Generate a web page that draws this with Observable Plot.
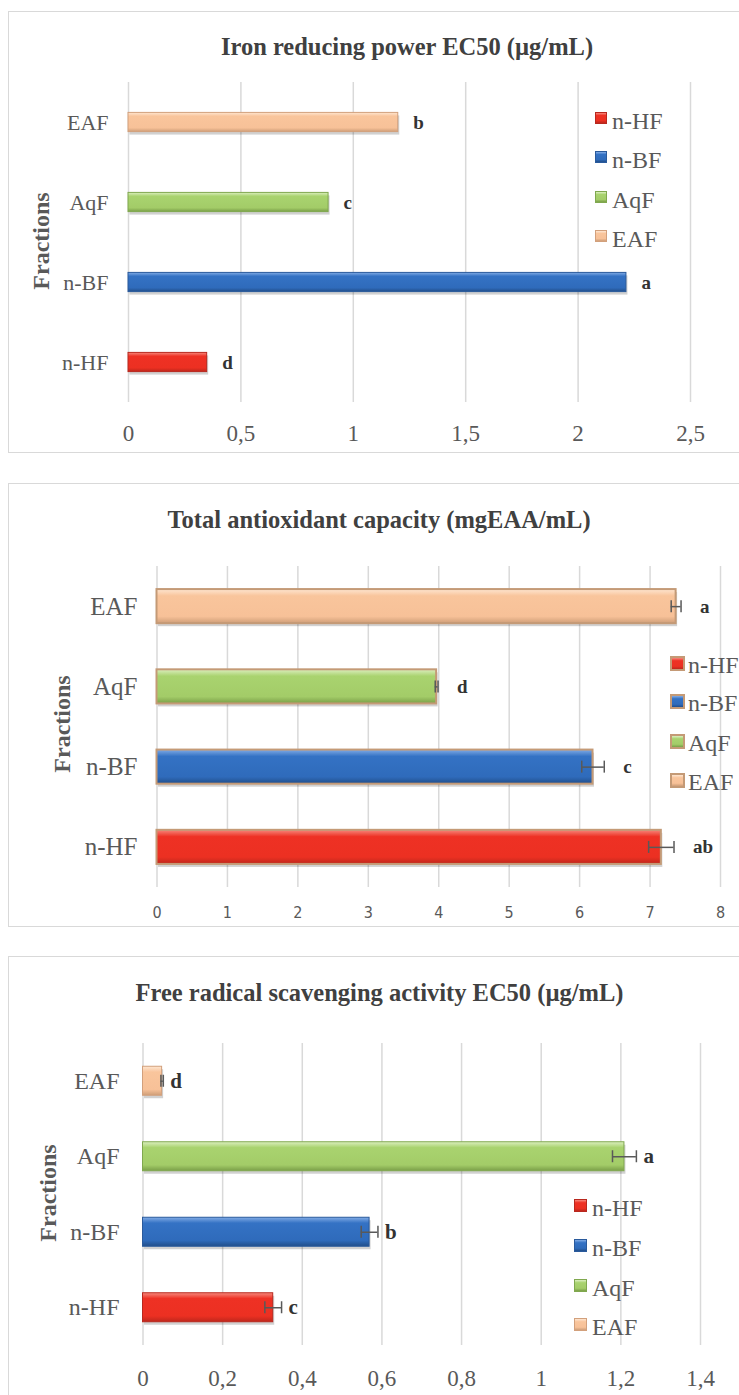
<!DOCTYPE html>
<html><head><meta charset="utf-8">
<script src="https://cdn.jsdelivr.net/npm/d3@7"></script>
<script src="https://cdn.jsdelivr.net/npm/@observablehq/plot@0.6"></script>
<style>
html,body{margin:0;padding:0;background:#fff;}
body{width:739px;height:1395px;position:relative;overflow:hidden;font-family:"Liberation Serif","Times New Roman",serif;}
.frame{position:absolute;border:1px solid #d9d9d9;box-sizing:border-box;}
.title{position:absolute;font-weight:bold;font-size:24.5px;line-height:24.5px;color:#404040;white-space:nowrap;transform:translateX(-50%);}
.ylab{position:absolute;font-weight:bold;font-size:24px;line-height:24px;color:#595959;white-space:nowrap;transform:translate(-50%,-50%) rotate(-90deg);}
.chart{position:absolute;left:0;}
.leg{position:absolute;font-size:24px;line-height:24px;color:#595959;white-space:nowrap;}
.sw{position:absolute;box-sizing:border-box;}
</style></head><body>
<svg width="0" height="0" style="position:absolute"><defs id="defs"></defs></svg>
<script>
// ---------------- data ----------------
const categories = ["n-HF", "n-BF", "AqF", "EAF"];          // legend order
const categoryOrder = ["EAF", "AqF", "n-BF", "n-HF"];       // top to bottom

const titles = [
  "Iron reducing power EC50 (µg/mL)",
  "Total antioxidant capacity (mgEAA/mL)",
  "Free radical scavenging activity EC50 (µg/mL)"
];
const yLabel = "Fractions";

// Panel 1: Iron reducing power EC50
const ironValues = [0.35, 2.215, 0.89, 1.20];
const ironLetters = ["d", "a", "c", "b"];
const ironTicks = [0, 0.5, 1, 1.5, 2, 2.5];

// Panel 2: Total antioxidant capacity
const tacValues = [7.16, 6.19, 3.97, 7.37];
const tacErrors = [0.18, 0.16, 0.02, 0.07];
const tacLetters = ["ab", "c", "d", "a"];
const tacTicks = [0, 1, 2, 3, 4, 5, 6, 7, 8];

// Panel 3: Free radical scavenging activity EC50
const dpphValues = [0.327, 0.569, 1.209, 0.048];
const dpphErrors = [0.021, 0.021, 0.03, 0.003];
const dpphLetters = ["c", "b", "a", "d"];
const dpphTicks = [0, 0.2, 0.4, 0.6, 0.8, 1, 1.2, 1.4];

// ---------------- styles ----------------
const gradStops = {
  "n-HF": ["#f6897d", "#ee3124", "#ec3022", "#be271c"],
  "n-BF": ["#82ace6", "#3472c4", "#2f6bbb", "#214e8a"],
  "AqF":  ["#dcefc0", "#a9d36f", "#a3cc68", "#7a9f48"],
  "EAF":  ["#fee6d1", "#f9c59c", "#f7c198", "#cf9e78"]
};
const darkStroke = {"n-HF": "#b8281e", "n-BF": "#2a5a9c", "AqF": "#80a84f", "EAF": "#d2a07c"};
const ids = {"n-HF": "hf", "n-BF": "bf", "AqF": "aq", "EAF": "ea"};

const defs = document.getElementById("defs");
for (const c of categories) {
  const s = gradStops[c];
  defs.insertAdjacentHTML("beforeend",
    `<linearGradient id="g-${ids[c]}" x1="0" y1="0" x2="0" y2="1">
      <stop offset="0" stop-color="${s[0]}"/><stop offset="0.2" stop-color="${s[1]}"/>
      <stop offset="0.8" stop-color="${s[2]}"/><stop offset="1" stop-color="${s[3]}"/></linearGradient>`);
}

const serif = "Liberation Serif, Times New Roman, serif";
const narrow = "Liberation Sans Narrow, DejaVu Sans Condensed, Liberation Sans, sans-serif";

const panels = [
  {title: titles[0], frameTop: 11, frameH: 442, titleX: 407, titleY: 47,
   svgTop: 82, plotH: 320, x0: 128, x1: 690, xmax: 2.5, ticks: ironTicks,
   tickFont: 23, tickFamily: serif, tickPad: 22, catFont: 22, catPad: 20, padInner: 0.76,
   ylabX: 41, ylabY: 241, values: ironValues, errors: null, letters: ironLetters,
   letterDx: 15, letterFont: 19, stroke: null, strokeW: 1,
   legSwX: 595, legTextX: 612, legY: [121, 160, 200, 239], swSize: 12, swBorder: null},
  {title: titles[1], frameTop: 483, frameH: 444, titleX: 379, titleY: 520,
   svgTop: 566, plotH: 321, x0: 156.5, x1: 720, xmax: 8, ticks: tacTicks,
   tickFont: 16, tickFamily: narrow, tickPad: 19, catFont: 25, catPad: 19.5, padInner: 0.575,
   ylabX: 62, ylabY: 724, values: tacValues, errors: tacErrors, letters: tacLetters,
   letterDx: 19, letterFont: 19, stroke: "#c49a76", strokeW: 2,
   legSwX: 670, legTextX: 688, legY: [665, 703, 743, 782], swSize: 15, swBorder: "#c49a76"},
  {title: titles[2], frameTop: 956, frameH: 500, titleX: 379.5, titleY: 993,
   svgTop: 1043, plotH: 302, x0: 142.5, x1: 700, xmax: 1.4, ticks: dpphTicks,
   tickFont: 23, tickFamily: serif, tickPad: 24, catFont: 24, catPad: 23.5, padInner: 0.616,
   ylabX: 48, ylabY: 1193, values: dpphValues, errors: dpphErrors, letters: dpphLetters,
   letterDx: 7, letterFont: 21, stroke: null, strokeW: 1,
   legSwX: 574, legTextX: 592, legY: [1208, 1248, 1288, 1327], swSize: 13, swBorder: null}
];

function el(cls, css, text) {
  const d = document.createElement("div");
  d.className = cls;
  Object.assign(d.style, css);
  if (text != null) d.textContent = text;
  document.body.appendChild(d);
  return d;
}

const fmt = d => String(d).replace(".", ",");

for (const cfg of panels) {
  el("frame", {left: "8px", top: cfg.frameTop + "px", width: "800px", height: cfg.frameH + "px"});
  el("title", {left: cfg.titleX + "px", top: (cfg.titleY - 12.25) + "px"}, cfg.title);

  const data = categories.map((c, i) => ({
    cat: c, value: cfg.values[i], err: cfg.errors ? cfg.errors[i] : 0, letter: cfg.letters[i]
  }));
  const bw = cfg.plotH / 4 * (1 - cfg.padInner);
  const capInset = Math.max(0, (bw - 12) / 2);

  const marks = [
    Plot.gridX(cfg.ticks, {stroke: "#d9d9d9", strokeOpacity: 1, strokeWidth: 1.5}),
    Plot.axisX(cfg.ticks, {tickSize: 0, tickPadding: cfg.tickPad, tickFormat: fmt, label: null,
      fontSize: cfg.tickFont, fontFamily: cfg.tickFamily}),
    Plot.axisY({tickSize: 0, tickPadding: cfg.catPad, fontSize: cfg.catFont, fontFamily: serif, label: null}),
    Plot.barX(data, {x: "value", y: "cat", fill: "#000", fillOpacity: 0.18, dx: 1.5, dy: 3}),
    Plot.barX(data, {x: "value", y: "cat",
      fill: d => `url(#g-${ids[d.cat]})`,
      stroke: d => cfg.stroke || darkStroke[d.cat], strokeWidth: cfg.strokeW})
  ];
  if (cfg.errors) {
    marks.push(
      Plot.ruleY(data, {y: "cat", x1: d => d.value - d.err, x2: d => d.value + d.err,
        stroke: "#595959", strokeWidth: 1.5}),
      Plot.tickX(data, {x: d => d.value - d.err, y: "cat", stroke: "#595959", strokeWidth: 1.5,
        insetTop: capInset, insetBottom: capInset}),
      Plot.tickX(data, {x: d => d.value + d.err, y: "cat", stroke: "#595959", strokeWidth: 1.5,
        insetTop: capInset, insetBottom: capInset})
    );
  }
  marks.push(Plot.text(data, {x: d => d.value + d.err, y: "cat", text: "letter",
    textAnchor: "start", dx: cfg.letterDx, fontWeight: "bold", fontSize: cfg.letterFont,
    fontFamily: serif, fill: "#333333"}));

  const chart = Plot.plot({
    width: 739,
    height: cfg.plotH + 50,
    marginLeft: cfg.x0,
    marginRight: 739 - cfg.x1,
    marginTop: 0,
    marginBottom: 50,
    x: {domain: [0, cfg.xmax], label: null},
    y: {domain: categoryOrder, paddingInner: cfg.padInner, paddingOuter: cfg.padInner / 2, align: 0.5, round: false, label: null},
    color: {type: "identity"},
    style: {fontFamily: serif, color: "#595959", background: "transparent", overflow: "visible"},
    marks
  });
  const wrap = el("chart", {top: cfg.svgTop + "px"});
  wrap.appendChild(chart);

  el("ylab", {left: cfg.ylabX + "px", top: cfg.ylabY + "px"}, yLabel);

  categories.forEach((c, i) => {
    const s = gradStops[c];
    const y = cfg.legY[i];
    el("sw", {
      left: cfg.legSwX + "px", top: (y - 9) + "px",
      width: cfg.swSize + "px", height: cfg.swSize + "px",
      background: `linear-gradient(${s[0]} 0%, ${s[1]} 25%, ${s[2]} 75%, ${s[3]} 100%)`,
      border: cfg.swBorder ? `2px solid ${cfg.swBorder}` : `1px solid ${darkStroke[c]}`
    });
    el("leg", {left: cfg.legTextX + "px", top: (y - 12) + "px"}, c);
  });
}
</script></body></html>
